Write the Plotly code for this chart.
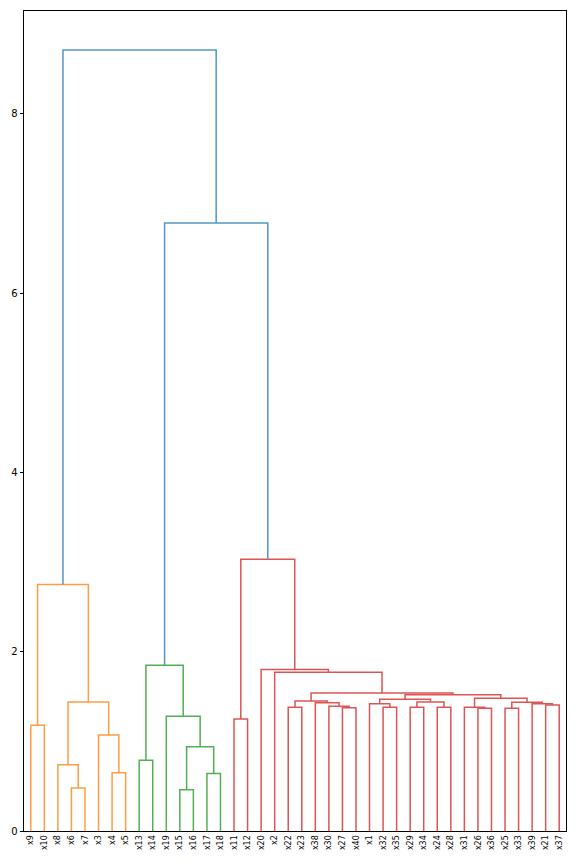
import plotly.graph_objects as go

# Leaf order as displayed
leaves = ["x9", "x10", "x8", "x6", "x7", "x3", "x4", "x5",
          "x13", "x14", "x19", "x15", "x16", "x17", "x18",
          "x11", "x12", "x20", "x2", "x22", "x23", "x38", "x30", "x27", "x40",
          "x1", "x32", "x35", "x29", "x34", "x24", "x28", "x31", "x26", "x36",
          "x25", "x33", "x39", "x21", "x37"]

# Merges: (name, left, right, height, cluster colour key)
merges = [
    # orange cluster
    ("o1", "x9", "x10", 1.18, "C1"),
    ("o2", "x6", "x7", 0.48, "C1"),
    ("o3", "x8", "o2", 0.74, "C1"),
    ("o4", "x4", "x5", 0.65, "C1"),
    ("o5", "x3", "o4", 1.07, "C1"),
    ("o6", "o3", "o5", 1.44, "C1"),
    ("o7", "o1", "o6", 2.75, "C1"),
    # green cluster
    ("g1", "x13", "x14", 0.79, "C2"),
    ("g2", "x15", "x16", 0.46, "C2"),
    ("g3", "x17", "x18", 0.64, "C2"),
    ("g4", "g2", "g3", 0.94, "C2"),
    ("g5", "x19", "g4", 1.28, "C2"),
    ("g6", "g1", "g5", 1.85, "C2"),
    # red cluster
    ("r1", "x11", "x12", 1.25, "C3"),
    ("r2", "x22", "x23", 1.38, "C3"),
    ("r3", "x27", "x40", 1.375, "C3"),
    ("r4", "x30", "r3", 1.39, "C3"),
    ("r5", "x38", "r4", 1.43, "C3"),
    ("r6", "r2", "r5", 1.45, "C3"),
    ("r7", "x32", "x35", 1.38, "C3"),
    ("r8", "x1", "r7", 1.42, "C3"),
    ("r9", "x29", "x34", 1.38, "C3"),
    ("r10", "x24", "x28", 1.38, "C3"),
    ("r11", "r9", "r10", 1.44, "C3"),
    ("r12", "r8", "r11", 1.47, "C3"),
    ("r13", "x26", "x36", 1.37, "C3"),
    ("r14", "x31", "r13", 1.38, "C3"),
    ("r15", "x25", "x33", 1.37, "C3"),
    ("r16", "x21", "x37", 1.405, "C3"),
    ("r17", "x39", "r16", 1.42, "C3"),
    ("r18", "r15", "r17", 1.435, "C3"),
    ("r19", "r14", "r18", 1.48, "C3"),
    ("r20", "r12", "r19", 1.52, "C3"),
    ("r21", "r6", "r20", 1.54, "C3"),
    ("r22", "x2", "r21", 1.77, "C3"),
    ("r23", "x20", "r22", 1.80, "C3"),
    ("r24", "r1", "r23", 3.03, "C3"),
    # above threshold
    ("b1", "g6", "r24", 6.78, "C0"),
    ("b2", "o7", "b1", 8.71, "C0"),
]

colors = {"C0": "rgb(82,150,200)", "C1": "rgb(255,157,68)",
          "C2": "rgb(82,175,82)", "C3": "rgb(221,84,84)"}

pos = {name: (5 + 10 * i, 0.0) for i, name in enumerate(leaves)}

fig = go.Figure()
segs = {k: ([], []) for k in colors}
for name, a, b, h, c in merges:
    xa, ya = pos[a]
    xb, yb = pos[b]
    xs, ys = segs[c]
    xs += [xa, xa, xb, xb, None]
    ys += [ya, h, h, yb, None]
    pos[name] = ((xa + xb) / 2, h)

for c in ["C1", "C2", "C3", "C0"]:
    xs, ys = segs[c]
    fig.add_trace(go.Scatter(x=xs, y=ys, mode="lines",
                             line=dict(color=colors[c], width=1.5),
                             hoverinfo="skip", showlegend=False))

ymax = max(m[3] for m in merges) * 1.05

fig.update_layout(
    width=576, height=864,
    margin=dict(l=24, r=10, t=11, b=33),
    paper_bgcolor="white", plot_bgcolor="white",
    font=dict(family="DejaVu Sans", color="black"),
)
fig.update_xaxes(
    range=[0, 10 * len(leaves)],
    tickmode="array",
    tickvals=[5 + 10 * i for i in range(len(leaves))],
    ticktext=leaves,
    tickangle=-90,
    tickfont=dict(size=8),
    ticks="", showgrid=False, zeroline=False,
    showline=True, linecolor="black", linewidth=1, mirror=True,
)
fig.update_yaxes(
    range=[0, ymax],
    tickvals=[0, 2, 4, 6, 8],
    tickfont=dict(size=10),
    ticks="outside", ticklen=3.5, tickcolor="black",
    showgrid=False, zeroline=False,
    showline=True, linecolor="black", linewidth=1, mirror=True,
)

fig.write_html("out.html", config={"displayModeBar": False},
               post_script="document.body.style.margin='0';document.body.style.overflow='hidden';")
